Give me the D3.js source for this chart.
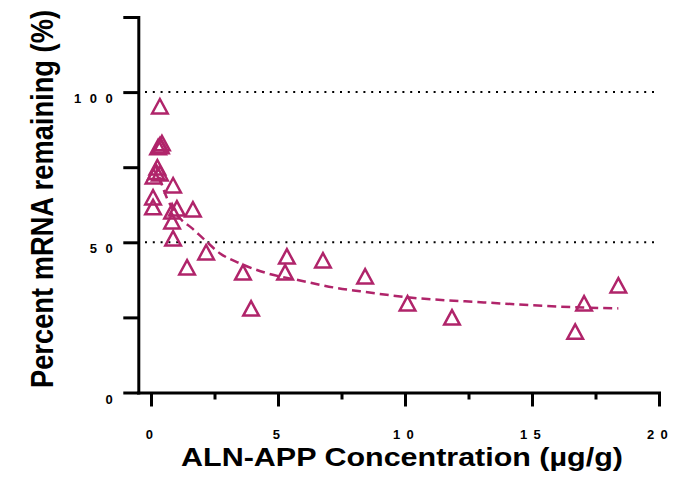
<!DOCTYPE html>
<html>
<head>
<meta charset="utf-8">
<script src="https://cdn.jsdelivr.net/npm/d3@7"></script>
<style>
  body { margin: 0; background: #fff; }
  svg text { font-family: "Liberation Sans", Arial, sans-serif; font-weight: bold; fill: #000; }
</style>
</head>
<body>
<svg id="chart"></svg>
<script>
/* data */
var concX = [0.35, 0.35, 0.28, 0.43, 0.39, 0.1, 0.2, 0.25, 0.35, 0.87, 0.08, 0.08, 0.83, 1.02, 1.65,
             0.83, 0.87, 1.42, 2.17, 3.62, 3.94, 5.35, 5.28, 6.77, 8.43, 10.1, 11.85, 17.05, 16.7, 18.4];
var mrnaY = [95.3, 82.3, 81.7, 83, 82, 72, 73.5, 75, 73, 69, 65, 61.7, 60.3, 61.3, 61,
             57, 51.3, 41.7, 46.7, 40, 28, 45.3, 40, 44, 38.7, 29.7, 25, 29.7, 20.3, 35.7];

/* dashed fit */
var fitX = [0.16, 0.63, 1.14, 1.61, 2.05, 2.72, 3.5, 4.57, 5.87, 7.17, 8.23, 10.1, 13.1, 17, 18.4];
var fitY = [76.3, 64.7, 58, 54.7, 51.3, 46.3, 43, 39.7, 37.3, 35, 33.7, 31.7, 30, 28.3, 28];

var xMajor = [0, 5, 10, 15, 20];
var xMinor = [2.5, 7.5, 12.5, 17.5];
var yTicks = [0, 25, 50, 75, 100, 125];
var yLabelled = [0, 50, 100];
var gridY = [50, 100];

var width = 684, height = 477,
    color = "#B0246A";

var svg = d3.select("#chart").attr("width", width).attr("height", height);

var xScale = d3.scaleLinear().domain([-0.5, 20]).range([138.3, 659]);
var yScale = d3.scaleLinear().domain([0, 125]).range([392.5, 17]);

/* dotted reference lines */
svg.selectAll(".grid")
  .data(gridY)
  .enter().append("line")
    .attr("class", "grid")
    .attr("x1", 145).attr("x2", 658)
    .attr("y1", function(d){ return yScale(d); })
    .attr("y2", function(d){ return yScale(d); })
    .attr("stroke", "#000")
    .attr("stroke-width", 2)
    .attr("stroke-dasharray", "2,5.8");

/* y axis */
var yAxis = d3.axisLeft(yScale)
    .tickValues(yTicks)
    .tickSize(15)
    .tickSizeOuter(0)
    .tickFormat(function(d){ return yLabelled.indexOf(d) >= 0 ? d : ""; });

var yAxisG = svg.append("g")
    .attr("transform", "translate(" + xScale(-0.5) + ",0)")
    .call(yAxis);

/* x axis, major then minor ticks */
var xAxisG = svg.append("g")
    .attr("transform", "translate(0," + yScale(0) + ")")
    .call(d3.axisBottom(xScale).tickValues(xMajor).tickSize(14).tickSizeOuter(0));

svg.append("g")
    .attr("transform", "translate(0," + yScale(0) + ")")
    .call(d3.axisBottom(xScale).tickValues(xMinor).tickSize(7).tickFormat(""))
    .select(".domain").remove();

svg.selectAll(".domain")
    .attr("stroke", "#000")
    .attr("stroke-width", 3)
    .attr("stroke-linecap", "square");
svg.selectAll(".tick line")
    .attr("stroke", "#000")
    .attr("stroke-width", 3);

yAxisG.selectAll("text")
    .attr("x", -17)
    .attr("dy", 10.5)
    .style("font-size", "13px")
    .style("letter-spacing", "8.5px")
    .attr("font-family", null);

xAxisG.selectAll("text")
    .attr("y", 46.5)
    .attr("dy", 0)
    .attr("dx", 1)
    .style("font-size", "13px")
    .style("letter-spacing", "6.3px")
    .attr("font-family", null);

/* fitted curve */
var line = d3.line()
    .x(function(d){ return xScale(d[0]); })
    .y(function(d){ return yScale(d[1]); })
    .curve(d3.curveMonotoneX);

svg.append("path")
    .datum(d3.zip(fitX, fitY))
    .attr("d", line)
    .attr("fill", "none")
    .attr("stroke", color)
    .attr("stroke-width", 2.5)
    .attr("stroke-dasharray", "9,5");

/* open triangles */
svg.selectAll(".pt")
  .data(d3.zip(concX, mrnaY))
  .enter().append("path")
    .attr("class", "pt")
    .attr("d", "M0,-7.2L7.8,7.2L-7.8,7.2Z")
    .attr("transform", function(d){
        return "translate(" + xScale(d[0]) + "," + yScale(d[1]) + ")";
    })
    .attr("fill", "none")
    .attr("stroke", color)
    .attr("stroke-width", 2.5);

/* axis titles (slightly stretched horizontally like the source) */
svg.append("text")
    .attr("transform", "translate(53,199) scale(1.15,1) rotate(-90)")
    .attr("text-anchor", "middle")
    .style("font-size", "27.3px")
    .text("Percent mRNA remaining (%)");

svg.append("text")
    .attr("transform", "translate(402,466) scale(1.15,1)")
    .attr("text-anchor", "middle")
    .style("font-size", "26.5px")
    .text("ALN-APP Concentration (µg/g)");
</script>
</body>
</html>
